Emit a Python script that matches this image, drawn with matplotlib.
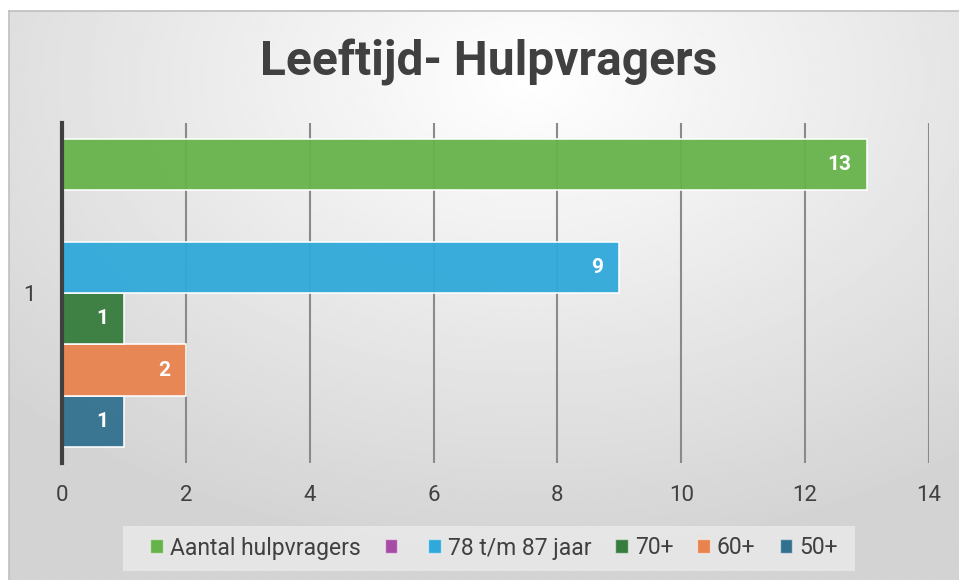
import matplotlib
matplotlib.use("Agg")
import matplotlib.pyplot as plt
import numpy as np
from matplotlib.patches import Patch, Rectangle

plt.rcParams["font.family"] = ["Roboto", "DejaVu Sans"]

# ---------------------------------------------------------------------------
# Data (bottom -> top as drawn)
# ---------------------------------------------------------------------------
series_names = ["50+", "60+", "70+", "78 t/m 87 jaar", "", "Aantal hulpvragers"]
series_values = [1, 2, 1, 9, 0, 13]
series_colors = ["#32718E", "#E8834E", "#367C3C", "#30A9DA", "#A64CA6", "#67B34B"]
category = "1"
x_ticks = [0, 2, 4, 6, 8, 10, 12, 14]

TEXT = "#404040"

fig = plt.figure(figsize=(9.59, 5.80), dpi=100)

# ── gradient background with thin border ──────────────────────────
bg = fig.add_axes([9 / 959, 0, 950 / 959, 569 / 580], zorder=-5)
yy, xx = np.mgrid[0:1:300j, 0:1:500j]
dist = np.sqrt(((xx - 0.55) * 1.0) ** 2 + ((yy - 0.12) * 0.9) ** 2)
shade = 1.0 - 0.17 * np.clip(dist / 0.75, 0, 1)
bg.imshow(shade, cmap="gray", vmin=0, vmax=1, aspect="auto",
          extent=(0, 1, 1, 0), interpolation="bilinear")
bg.set_xlim(0, 1)
bg.set_ylim(1, 0)
bg.set_xticks([])
bg.set_yticks([])
for side in ["right", "bottom"]:
    bg.spines[side].set_visible(False)
for side in ["left", "top"]:
    bg.spines[side].set_color("#bfbfbf")
    bg.spines[side].set_linewidth(1.2)

# legend box
fig.patches.append(Rectangle((123 / 959, 1 - 571 / 580), 732 / 959, 45 / 580,
                             transform=fig.transFigure, facecolor="#e8e8e8",
                             edgecolor="none", alpha=0.9, zorder=-1))

# ── main axes ─────────────────────────────────────────────────────
ax = fig.add_axes([62 / 959, 1 - 463 / 580, 867 / 959, 340 / 580])
ax.patch.set_alpha(0)

pos = np.arange(len(series_values))
bars = ax.barh(pos, series_values, height=1.0, color=series_colors,
               alpha=0.95, edgecolor=(1, 1, 1, 0.45), linewidth=1.2, zorder=3)

for b, v in zip(bars, series_values):
    if v > 0:
        ax.text(v - 0.26, b.get_y() + b.get_height() / 2, str(v),
                ha="right", va="center", color="white",
                fontsize=15, fontweight="bold", zorder=4)

ax.set_xlim(0, 14)
ax.set_ylim(-0.81, len(series_values) - 1 + 0.81)
ax.set_xticks(x_ticks)
ax.set_xticklabels([str(t) for t in x_ticks])
ax.set_yticks([(len(series_values) - 1) / 2])
ax.set_yticklabels([category])
ax.tick_params(axis="x", length=0, pad=16, labelsize=16, labelcolor=TEXT)
ax.tick_params(axis="y", length=0, pad=19, labelsize=16, labelcolor=TEXT)

ax.grid(axis="x", color="#8a8a8a", linewidth=1.5, zorder=1)
ax.set_axisbelow(True)
for side in ["top", "right", "bottom"]:
    ax.spines[side].set_visible(False)
ax.spines["left"].set_color("#404040")
ax.spines["left"].set_linewidth(3)
ax.spines["left"].set_zorder(5)

fig.text(489 / 959, 1 - 62 / 580, "Leeftijd- Hulpvragers", ha="center", va="center",
         fontsize=34.5, fontweight="bold", color=TEXT)

# ── legend (top series first) ─────────────────────────────────────
handles = [Patch(facecolor=c, edgecolor=(1, 1, 1, 0.5), label=n)
           for n, c in zip(series_names[::-1], series_colors[::-1])]
leg = fig.legend(handles=handles, loc="center", bbox_to_anchor=(494 / 959, 1 - 548 / 580),
                 ncol=len(handles), frameon=False, fontsize=16.5, handlelength=0.55,
                 handleheight=0.55, handletextpad=0.3, columnspacing=1.05,
                 borderpad=0.45, labelcolor=TEXT)

fig.savefig("out.png", dpi=100)
